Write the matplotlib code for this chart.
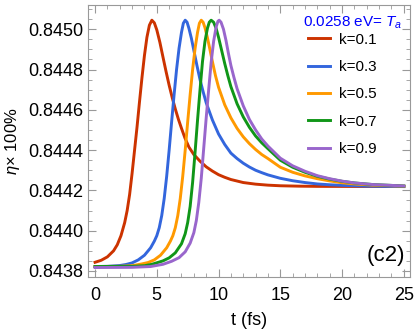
import matplotlib
matplotlib.use("Agg")
import matplotlib.pyplot as plt
from matplotlib.ticker import MultipleLocator, FormatStrFormatter

plt.rcParams['font.family'] = ['Liberation Sans', 'DejaVu Sans']
plt.rcParams['mathtext.fontset'] = 'custom'
plt.rcParams['mathtext.rm'] = 'Liberation Sans'
plt.rcParams['mathtext.it'] = 'Liberation Sans:italic'

# values: t (fs) and eta*100%
t_k01 = [0.0, 0.5, 1.0, 1.5, 1.8, 2.1, 2.4, 2.6, 2.8, 3.0, 3.2, 3.4, 3.6, 3.8, 4.0, 4.2, 4.4, 4.6,
         4.8, 5.0, 5.25, 5.5, 5.75, 6.0, 6.25, 6.5, 6.75, 7.0, 7.28, 7.6, 8.0, 8.5, 9.0, 9.5, 10.0,
         10.5, 11.0, 12.0, 13.0, 14.0, 15.0, 16.5, 18.0, 25.0]
v_k01 = [0.843843, 0.843853, 0.843870, 0.843900, 0.843930, 0.843975, 0.844040, 0.844100, 0.844180,
         0.844285, 0.844400, 0.844515, 0.844640, 0.844760, 0.844870, 0.844960, 0.845020, 0.845045,
         0.845032, 0.844997, 0.844935, 0.844862, 0.844790, 0.844722, 0.844660, 0.844604, 0.844553,
         0.844508, 0.844460, 0.844415, 0.844378, 0.844345, 0.844317, 0.844296, 0.844278, 0.844265,
         0.844254, 0.844239, 0.844231, 0.844226, 0.844223, 0.844221, 0.844220, 0.844219]

t_k03 = [0.0, 1.0, 2.0, 2.5, 3.0, 3.5, 4.0, 4.5, 4.8, 5.0, 5.2, 5.4, 5.6, 5.8, 6.0, 6.2, 6.4, 6.6,
         6.8, 7.0, 7.15, 7.3, 7.45, 7.6, 7.8, 8.0, 8.25, 8.5, 8.75, 9.0, 9.5, 10.0, 10.5, 11.0, 11.5,
         12.0, 12.5, 13.0, 13.5, 14.0, 15.0, 16.0, 17.0, 18.0, 19.0, 20.0, 22.0, 25.0]
v_k03 = [0.843822, 0.843823, 0.843827, 0.843832, 0.843840, 0.843855, 0.843878, 0.843915, 0.843948,
         0.843975, 0.844015, 0.844075, 0.844160, 0.844270, 0.844400, 0.844540, 0.844675, 0.844800,
         0.844905, 0.844985, 0.845030, 0.845045, 0.845035, 0.845005, 0.844955, 0.844895, 0.844820,
         0.844750, 0.844690, 0.844635, 0.844550, 0.844480, 0.844428, 0.844385, 0.844358, 0.844335,
         0.844316, 0.844300, 0.844288, 0.844277, 0.844260, 0.844248, 0.844239, 0.844232, 0.844228,
         0.844225, 0.844221, 0.844219]

t_k05 = [0.0, 2.0, 3.0, 3.8, 4.3, 4.8, 5.3, 5.8, 6.1, 6.3, 6.5, 6.7, 6.9, 7.1, 7.3, 7.5, 7.7, 7.9,
         8.1, 8.3, 8.45, 8.6, 8.75, 8.9, 9.1, 9.3, 9.5, 9.75, 10.0, 10.5, 11.0, 11.5, 12.0, 12.5, 13.0,
         13.5, 14.0, 15.0, 16.0, 17.0, 18.0, 19.0, 20.0, 21.0, 22.5, 25.0]
v_k05 = [0.843822, 0.843823, 0.843826, 0.843835, 0.843842, 0.843855, 0.843878, 0.843915, 0.843948,
         0.843975, 0.844015, 0.844075, 0.844160, 0.844270, 0.844400, 0.844540, 0.844675, 0.844800,
         0.844905, 0.844985, 0.845030, 0.845045, 0.845035, 0.845008, 0.844958, 0.844900, 0.844840,
         0.844770, 0.844712, 0.844625, 0.844560, 0.844508, 0.844466, 0.844432, 0.844403, 0.844378,
         0.844358, 0.844315, 0.844290, 0.844272, 0.844258, 0.844247, 0.844238, 0.844232, 0.844226,
         0.844221]

t_k07 = [0.0, 3.0, 4.0, 4.6, 5.5, 6.0, 6.5, 7.0, 7.3, 7.5, 7.7, 7.9, 8.1, 8.3, 8.5, 8.7, 8.9, 9.1,
         9.25, 9.4, 9.6, 9.8, 10.0, 10.25, 10.5, 10.75, 11.0, 11.5, 12.0, 12.5, 13.0, 13.5, 14.0,
         15.0, 16.0, 17.0, 18.0, 19.0, 20.0, 21.0, 22.5, 25.0]
v_k07 = [0.843822, 0.843823, 0.843826, 0.843833, 0.843850, 0.843865, 0.843890, 0.843935, 0.843985,
         0.844040, 0.844120, 0.844240, 0.844390, 0.844550, 0.844700, 0.844840, 0.844940, 0.845005,
         0.845035, 0.845045, 0.845035, 0.845005, 0.844960, 0.844895, 0.844830, 0.844770, 0.844715,
         0.844630, 0.844565, 0.844513, 0.844470, 0.844436, 0.844407, 0.844350, 0.844315, 0.844290,
         0.844270, 0.844256, 0.844245, 0.844237, 0.844229, 0.844222]

t_k09 = [0.0, 3.0, 4.5, 5.5, 6.2, 6.8, 7.3, 7.7, 8.0, 8.2, 8.4, 8.6, 8.8, 9.0, 9.2, 9.4, 9.6, 9.8,
         9.95, 10.05, 10.2, 10.4, 10.6, 10.8, 11.0, 11.25, 11.5, 12.0, 12.5, 13.0, 13.5, 14.0, 15.0,
         16.0, 17.0, 18.0, 19.0, 20.0, 21.0, 22.5, 25.0]
v_k09 = [0.843817, 0.843818, 0.843822, 0.843833, 0.843848, 0.843866, 0.843895, 0.843938, 0.843990,
         0.844050, 0.844140, 0.844260, 0.844410, 0.844560, 0.844700, 0.844835, 0.844940, 0.845010,
         0.845040, 0.845045, 0.845035, 0.845000, 0.844945, 0.844880, 0.844820, 0.844760, 0.844705,
         0.844620, 0.844552, 0.844500, 0.844455, 0.844420, 0.844360, 0.844322, 0.844295, 0.844273,
         0.844258, 0.844246, 0.844237, 0.844229, 0.844222]

labels = ['k=0.1', 'k=0.3', 'k=0.5', 'k=0.7', 'k=0.9']
colors = ['#CC3300', '#3366DD', '#FF9900', '#109618', '#9966CC']
ts = [t_k01, t_k03, t_k05, t_k07, t_k09]
vs = [v_k01, v_k03, v_k05, v_k07, v_k09]

fig = plt.figure(figsize=(4.15, 3.33), dpi=100)
ax = fig.add_axes([88/415, 1-277/333, 322/415, 272.5/333])

for t, v, lab, col in zip(ts, vs, labels, colors):
    ax.plot(t, v, color=col, lw=2.1, label=lab, solid_joinstyle='round')

ax.set_xlim(-0.57, 25.5)
ax.set_ylim(0.84377, 0.845123)
ax.xaxis.set_major_locator(MultipleLocator(5))
ax.xaxis.set_minor_locator(MultipleLocator(1))
ax.yaxis.set_major_locator(MultipleLocator(0.0002))
ax.yaxis.set_minor_locator(MultipleLocator(0.00005))
ax.yaxis.set_major_formatter(FormatStrFormatter('%.4f'))

for s in ax.spines.values():
    s.set_color('#999999')
ax.tick_params(which='both', direction='in', top=True, right=True, colors='#999999',
               labelcolor='black', labelsize=13)
ax.tick_params(which='major', length=5.5, width=0.8)
ax.tick_params(which='minor', length=3, width=0.6)
ax.tick_params(axis='x', pad=7)
ax.tick_params(axis='y', pad=3.5)

ax.set_xlabel('t (fs)', fontsize=13, labelpad=6)
ax.set_ylabel(r'$\eta$× 100%', fontsize=12, labelpad=4)

fig.text(403/415, 1-23/333, '0.0258 eV= $T_a$', color='#0000FF', fontsize=11,
         ha='right', va='center')
ax.legend(loc='upper left', bbox_to_anchor=(308/415, 1-32.5/333), bbox_transform=fig.transFigure,
          frameon=False, fontsize=11, handlelength=1.45, handletextpad=0.6,
          labelspacing=0.875, borderpad=0, borderaxespad=0)

ax.text(0.985, 0.04, '(c2)', transform=ax.transAxes, ha='right', va='bottom', fontsize=16)

fig.savefig('out.png', dpi=100)
